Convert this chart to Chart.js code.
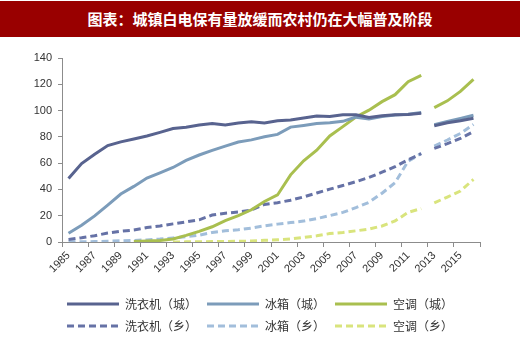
<!DOCTYPE html>
<html>
<head>
<meta charset="utf-8">
<script src="https://cdn.jsdelivr.net/npm/chart.js@4"></script>
<style>
    html, body { margin: 0; padding: 0; background: #fff; }
    body { width: 520px; height: 342px; overflow: hidden; position: relative; }
    #banner {
        position: absolute; left: 0; top: 1px; width: 520px; height: 36px;
        background: #990000; color: #fff; text-align: center;
        font: bold 15px "Noto Sans CJK SC", sans-serif; line-height: 36px;
    }
    #wrap { position: absolute; left: 0; top: 37px; width: 520px; height: 305px; }
</style>
</head>
<body>
<div id="banner">图表：城镇白电保有量放缓而农村仍在大幅普及阶段</div>
<div id="wrap"><canvas id="chart"></canvas></div>
<script>
// categories (1985 - 2016)
const years = ['1985', '1986', '1987', '1988', '1989', '1990', '1991', '1992', '1993', '1994',
    '1995', '1996', '1997', '1998', '1999', '2000', '2001', '2002', '2003', '2004',
    '2005', '2006', '2007', '2008', '2009', '2010', '2011', '2012', '2013', '2014',
    '2015', '2016'];

// urban, per 100 households
const washerUrban = [48.3, 59.7, 66.8, 73.4, 76.2, 78.4, 80.6, 83.4, 86.4, 87.3,
    89.0, 90.1, 89.1, 90.6, 91.4, 90.5, 92.2, 92.9, 94.4, 95.9,
    95.5, 96.8, 96.8, 94.7, 96.0, 96.9, 97.1, 98.0, 88.4, 90.7,
    92.3, 94.2];
const fridgeUrban = [6.6, 12.7, 19.9, 28.1, 36.5, 42.3, 48.7, 52.6, 56.7, 62.1,
    66.2, 69.7, 73.0, 76.1, 77.7, 80.1, 81.9, 87.4, 88.7, 90.2,
    90.7, 91.8, 95.0, 93.6, 95.4, 96.6, 97.2, 98.5, 89.2, 91.7,
    94.0, 96.4];
const acUrban = [null, null, null, null, null, 0.3, 0.7, 1.2, 2.3, 5.0,
    8.1, 11.6, 16.3, 20.0, 24.5, 30.8, 35.8, 51.1, 61.8, 69.8,
    80.7, 87.8, 95.1, 100.3, 106.8, 112.1, 122.0, 126.8, 102.2, 107.4,
    114.6, 123.7];

// rural, per 100 households
const washerRural = [1.9, 3.2, 4.8, 6.8, 8.2, 9.1, 11.0, 12.2, 13.8, 15.3,
    16.9, 20.5, 21.9, 22.8, 24.3, 28.6, 29.9, 31.8, 34.3, 37.3,
    40.2, 43.0, 45.9, 49.1, 53.1, 57.3, 62.6, 67.2, 71.2, 74.8,
    78.8, 84.0];
const fridgeRural = [0.1, 0.2, 0.3, 0.6, 0.9, 1.2, 1.6, 2.2, 3.1, 4.0,
    5.2, 7.3, 8.5, 9.3, 10.6, 12.3, 13.6, 14.8, 15.9, 17.8,
    20.1, 22.5, 26.1, 30.2, 37.1, 45.2, 61.5, 67.3, 72.9, 77.6,
    82.6, 89.5];
const acRural = [null, null, null, null, null, null, null, null, 0.0, 0.1,
    0.2, 0.3, 0.4, 0.6, 0.7, 1.3, 1.7, 2.3, 3.5, 4.7,
    6.4, 7.3, 8.5, 9.8, 12.2, 16.0, 22.6, 25.4, 29.8, 34.2,
    38.8, 47.6];

const tickFont = { family: '"Liberation Sans", Arial, sans-serif', size: 11 };
const axisGray = '#8c8c8c';

// the 2012 -> 2013 link is not drawn (statistics break)
const breakAfter = years.indexOf('2012');
const gapSegment = {
    borderColor: ctx => ctx.p0DataIndex === breakAfter ? 'rgba(0,0,0,0)' : undefined
};

function series(label, data, color, dashed) {
    return {
        label: label,
        data: data,
        borderColor: color,
        backgroundColor: color,
        borderWidth: 3,
        borderDash: dashed ? [7, 4] : [],
        pointRadius: 0,
        tension: 0,
        fill: false,
        segment: gapSegment
    };
}

const ctx = document.getElementById('chart').getContext('2d');

new Chart(ctx, {
    type: 'line',
    data: {
        labels: years,
        datasets: [
            series('洗衣机（城）', washerUrban, '#58638f', false),
            series('冰箱（城）', fridgeUrban, '#7c9cba', false),
            series('空调（城）', acUrban, '#a9bf4f', false),
            series('洗衣机（乡）', washerRural, '#6672a6', true),
            series('冰箱（乡）', fridgeRural, '#a2bedb', true),
            series('空调（乡）', acRural, '#d9e47d', true)
        ]
    },
    options: {
        responsive: true,
        maintainAspectRatio: false,
        animation: false,
        layout: { padding: { top: 21, right: 0, left: 0, bottom: 0 } },
        scales: {
            x: {
                type: 'category',
                offset: true,
                grid: {
                    offset: true,
                    drawOnChartArea: false,
                    tickLength: 5,
                    color: c => (c.index === undefined || c.index % 2 === 0) ? axisGray : 'rgba(0,0,0,0)'
                },
                border: { color: axisGray },
                ticks: {
                    autoSkip: false,
                    minRotation: 45,
                    maxRotation: 45,
                    padding: 2,
                    color: '#333',
                    font: tickFont,
                    callback: (value, i) => i % 2 === 0 ? years[i] : ''
                },
                afterFit: scale => { scale.height = 46; }
            },
            y: {
                min: 0,
                max: 140,
                grid: { drawOnChartArea: false, tickLength: 4, color: axisGray },
                border: { color: axisGray },
                ticks: { stepSize: 20, padding: 6, color: '#333', font: tickFont },
                afterFit: scale => { scale.width = 62; }
            },
            // empty spacer on the right so the legend stays centred on the page
            spacer: {
                position: 'right',
                grid: { display: false },
                border: { display: false },
                ticks: { display: false },
                afterFit: scale => { scale.width = 40; }
            }
        },
        plugins: {
            legend: {
                position: 'bottom',
                labels: {
                    usePointStyle: true,
                    pointStyle: 'line',
                    pointStyleWidth: 52,
                    padding: 10,
                    color: '#333',
                    font: { family: '"Noto Sans CJK SC", sans-serif', size: 12 },
                    generateLabels: chart => {
                        const items = Chart.defaults.plugins.legend.labels.generateLabels(chart);
                        items.forEach(item => {
                            const ds = chart.data.datasets[item.datasetIndex];
                            item.strokeStyle = ds.borderColor;
                            item.lineWidth = ds.borderWidth;
                            item.lineDash = ds.borderDash;
                        });
                        return items;
                    }
                }
            },
            tooltip: { enabled: false }
        }
    }
});
</script>
</body>
</html>
